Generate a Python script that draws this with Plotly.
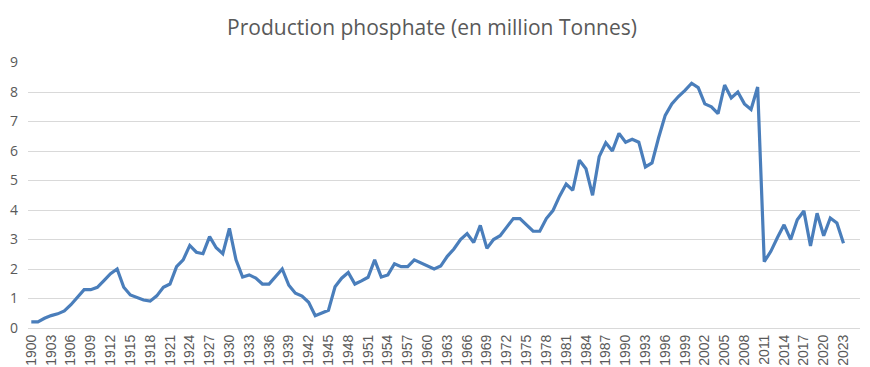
import plotly.graph_objects as go

years = list(range(1900, 2024))
production = [
    0.21, 0.21, 0.33, 0.42, 0.48, 0.58, 0.79, 1.03, 1.30, 1.30,   # 1900-1909
    1.38, 1.61, 1.84, 2.00, 1.38, 1.12, 1.03, 0.95, 0.91, 1.09,   # 1910-1919
    1.38, 1.49, 2.08, 2.31, 2.80, 2.57, 2.52, 3.10, 2.72, 2.52,   # 1920-1929
    3.38, 2.31, 1.73, 1.80, 1.69, 1.49, 1.49, 1.73, 2.00, 1.45,   # 1930-1939
    1.18, 1.08, 0.87, 0.42, 0.50, 0.60, 1.40, 1.69, 1.88, 1.49,   # 1940-1949
    1.60, 1.72, 2.31, 1.73, 1.80, 2.18, 2.08, 2.08, 2.31, 2.20,   # 1950-1959
    2.10, 2.00, 2.10, 2.43, 2.68, 3.00, 3.20, 2.90, 3.48, 2.70,   # 1960-1969
    3.00, 3.13, 3.42, 3.71, 3.71, 3.50, 3.28, 3.28, 3.71, 3.98,   # 1970-1979
    4.47, 4.88, 4.67, 5.69, 5.40, 4.50, 5.81, 6.28, 6.00, 6.60,   # 1980-1989
    6.30, 6.40, 6.30, 5.46, 5.60, 6.45, 7.21, 7.60, 7.85, 8.06,   # 1990-1999
    8.30, 8.15, 7.60, 7.50, 7.27, 8.24, 7.80, 8.00, 7.60, 7.41,   # 2000-2009
    8.17, 2.25, 2.60, 3.07, 3.50, 3.00, 3.67, 3.97, 2.78, 3.89,   # 2010-2019
    3.13, 3.73, 3.56, 2.87,                                       # 2020-2023
]
x_tick_years = list(range(1900, 2024, 3))
y_ticks = list(range(0, 10))
title_text = "Production phosphate (en million Tonnes)"

# page body has an 8px default margin: compensate
W, H = 862, 359

fig = go.Figure(
    go.Scatter(
        x=years, y=production, mode="lines",
        line=dict(color="#4A7EBB", width=3.2),
        hoverinfo="x+y",
    )
)

fig.update_layout(
    width=W, height=H,
    margin=dict(l=20, r=10, t=54, b=39, autoexpand=False),
    paper_bgcolor="white", plot_bgcolor="white",
    showlegend=False,
    title=dict(
        text=title_text, x=(432 - 8) / W, xanchor="center", y=1 - 20 / H, yref="container",
        yanchor="middle", automargin=False,
        font=dict(family="Open Sans, Lato, sans-serif", size=21, color="#595959"),
    ),
    font=dict(family="Open Sans, Liberation Sans, sans-serif", color="#595959"),
)

fig.update_xaxes(
    range=[1899.5, 2025.5], automargin=False,
    tickmode="array", tickvals=x_tick_years, ticktext=[str(y) for y in x_tick_years],
    tickangle=-90, tickfont=dict(family="Liberation Sans, Arial, sans-serif", size=14, color="#595959"),
    showgrid=False, zeroline=False,
    showline=True, linecolor="#D9D9D9", linewidth=1,
    ticks="", ticklen=0,
)

fig.update_yaxes(
    range=[0, 9.02], automargin=False,
    tickmode="array", tickvals=y_ticks,
    tickfont=dict(family="Open Sans, sans-serif", size=14, color="#595959"),
    showgrid=True, gridcolor="#D9D9D9", gridwidth=1,
    zeroline=False, showline=False, ticks="",
    ticklabelstandoff=9,
)

fig.write_html("out.html")
